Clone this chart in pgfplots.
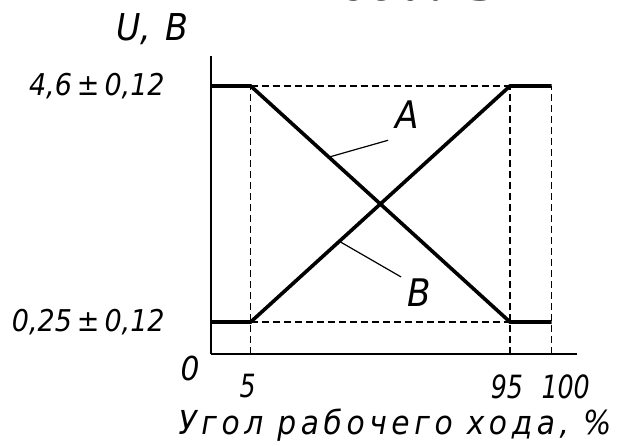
\documentclass[border=0pt]{standalone}
\usepackage{fontspec}
\setmainfont{DejaVu Sans Condensed Oblique}
\newfontfamily\titlefont{Liberation Serif Bold Italic}
\usepackage{pgfplots}
\pgfplotsset{compat=1.18}

% the drawing is schematic: 0-5 and 95-100 are stretched, so are 0-0.25 on U
\pgfplotsset{
  guide/.style={black, line width=1.2pt, dash pattern=on 7pt off 4pt},
  curve/.style={black, line width=3.6pt, line join=miter},
}

\begin{document}
\begin{tikzpicture}
\begin{axis}[
  at={(211pt,92pt)}, anchor=south west,
  x=1pt, y=1pt,
  x coord trafo/.code={\pgfmathparse{min(#1,5)*7.94+max(min(#1,95)-5,0)*2.881+max(#1-95,0)*8.34}},
  y coord trafo/.code={\pgfmathparse{min(#1,0.25)*128+max(#1-0.25,0)*54.25}},
  xmin=0, xmax=103.03, ymin=0, ymax=5.153,
  axis lines=left,
  axis line style={-, line width=1.3pt},
  tick style={draw=none},
  xtick={5,95}, xticklabels={5,95},
  extra x ticks={100}, extra x tick labels={100},
  extra x tick style={xticklabel style={xshift=17pt}},
  xticklabel style={anchor=north, inner sep=0pt, yshift=-18pt, xshift=-3pt,
                    font=\fontsize{32}{37}\selectfont\addfontfeatures{FakeStretch=0.88}},
  ytick={0.25,4.6},
  yticklabels={{0,25\,±\,0,12},{4,6\,±\,0,12}},
  yticklabel style={anchor=east, inner sep=0pt, xshift=-44pt,
                    font=\fontsize{30}{35}\selectfont},
  clip=false,
]
% guide lines
\addplot[guide] coordinates {(5,0) (5,4.6)};
\addplot[guide] coordinates {(95,0) (95,4.6)};
\addplot[guide] coordinates {(100,0) (100,4.6)};
\addplot[guide] coordinates {(5,4.6) (95,4.6)};
\addplot[guide] coordinates {(5,0.25) (95,0.25)};
% characteristics A and B
\addplot[curve] coordinates {(0,4.6) (5,4.6) (95,0.25) (100,0.25)};
\addplot[curve] coordinates {(0,0.25) (5,0.25) (95,4.6) (100,4.6)};
% leaders and letters
\draw[line width=1.2pt] (axis cs:32.2,3.29) -- (axis cs:52.7,3.60);
\draw[line width=1.2pt] (axis cs:36.0,1.73) -- (axis cs:57.2,1.08);
\node[font=\fontsize{38}{44}\selectfont] at (axis cs:59.3,4.07) {A};
\node[font=\fontsize{38}{44}\selectfont] at (axis cs:63.4,0.80) {B};
\node[font=\fontsize{37}{42}\selectfont] at (axis cs:-7.43,5.65) {U,\hspace{14pt}B};
\node[font=\fontsize{33}{38}\selectfont] at (axis cs:-2.64,-0.117) {0};
\node[anchor=base, font=\fontsize{33}{38}\selectfont\addfontfeatures{LetterSpace=14}]
  at (axis cs:55.1,-0.63) {Угол рабочего хода, \%};
\end{axis}
% title, mostly above the top edge as in the reference
\node[anchor=base, font=\titlefont\fontsize{66}{72}\selectfont] at (401pt,445pt) {педаль};
\pgfresetboundingbox
\useasboundingbox (0,0) rectangle (620pt,446pt);
\end{tikzpicture}
\end{document}
